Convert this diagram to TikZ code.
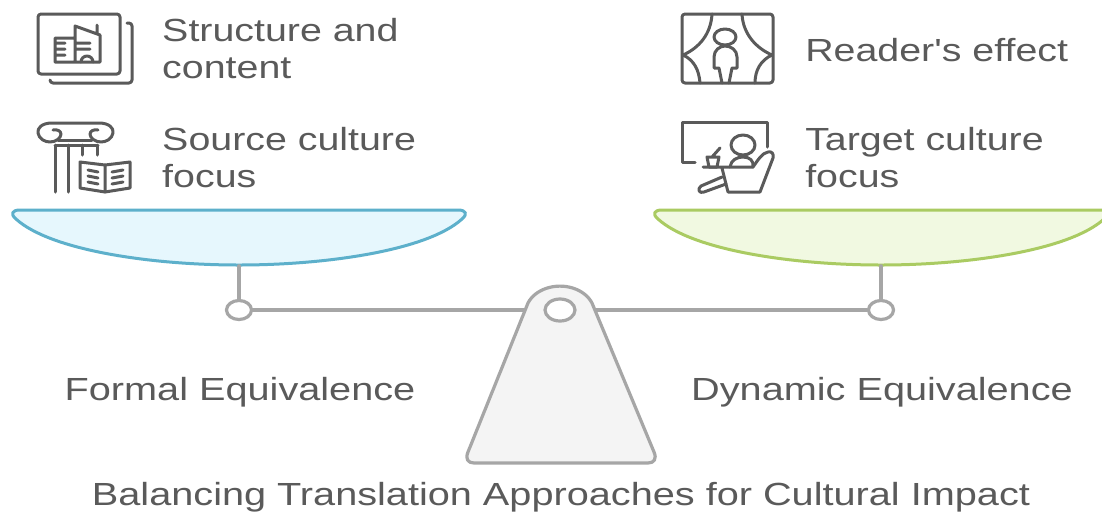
\documentclass[tikz,border=0pt]{standalone}
\usepackage{fontspec}
\setmainfont{Liberation Sans}
\usepackage{tikz}
\usetikzlibrary{arrows,positioning,shapes.geometric}
\definecolor{inkgray}{HTML}{5A5A5A}
\definecolor{beamgray}{HTML}{A6A6A6}
\definecolor{basefill}{HTML}{F4F4F4}
\definecolor{bluepan}{HTML}{E6F7FD}
\definecolor{blueline}{HTML}{5DB0CB}
\definecolor{greenpan}{HTML}{F1F9E1}
\definecolor{greenline}{HTML}{AACB62}
\begin{document}
\begin{tikzpicture}[x=1pt,y=-1pt,-,line join=round,line cap=round,
  pivot node/.style={ellipse,fill=white,draw=beamgray,line width=3.2pt,inner sep=0pt,minimum width=25pt,minimum height=19pt},
  hole node/.style={ellipse,fill=white,draw=beamgray,line width=3.2pt,inner sep=0pt,minimum width=30pt,minimum height=22pt},
  item node/.style={font=\fontsize{32}{37}\selectfont,text=inkgray,align=left,anchor=west,inner sep=0pt,transform shape,xscale=1.23},
  title node/.style={font=\fontsize{32}{37}\selectfont,text=inkgray,anchor=center,inner sep=0pt,transform shape,xscale=1.24},
  icon/.style={draw=inkgray,line width=3pt},
  beam/.style={draw=beamgray,line width=3.6pt}]
  \useasboundingbox (0,0) rectangle (1102,515);
  \fill[white] (0,0) rectangle (1102,515);

  % pans
  \draw[fill=bluepan,draw=blueline,line width=3pt]
    (20,210) -- (458,210) .. controls (466,210) and (468,214) .. (462,219)
    .. controls (428,250) and (328,265) .. (239,265)
    .. controls (150,265) and (50,250) .. (16,219)
    .. controls (10,214) and (12,210) .. (20,210) -- cycle;
  \draw[fill=greenpan,draw=greenline,line width=3pt]
    (662,210) -- (1100,210) .. controls (1108,210) and (1110,214) .. (1104,219)
    .. controls (1070,250) and (970,265) .. (881,265)
    .. controls (792,265) and (692,250) .. (658,219)
    .. controls (652,214) and (654,210) .. (662,210) -- cycle;
  \coordinate (lefthang) at (239,266);
  \coordinate (righthang) at (881,266);

  % scale
  \coordinate (hub) at (560,310);
  \node[pivot node] (leftpivot) at (239,310) {};
  \node[pivot node] (rightpivot) at (881,310) {};
  \path[beam] (lefthang) edge (leftpivot)
    (righthang) edge (rightpivot)
    (leftpivot) edge (rightpivot);
  \draw[fill=basefill,draw=beamgray,line width=3.2pt]
    (528,303) arc[start angle=202,end angle=338,x radius=34.5,y radius=27]
    -- (654,452) .. controls (657,459) and (654,463) .. (648,463)
    -- (474,463) .. controls (468,463) and (465,459) .. (468,452) -- cycle;
  \node[hole node] (hole) at (hub) {};

  % labels
  \node[item node] (structure) at (162,49) {Structure and\\content};
  \node[item node] (source) at (162,158) {Source culture\\focus};
  \node[item node] (reader) at (805,50) {Reader\textquotesingle s effect};
  \node[item node] (target) at (805,158) {Target culture\\focus};
  \node[title node] (formal) at (240,392) {Formal Equivalence};
  \node[title node] (dynamic) at (882,392) {Dynamic Equivalence};
  \node[title node] (title) at (561,497) {Balancing Translation Approaches for Cultural Impact};

  % structure icon
  \draw[icon,rounded corners=3pt] (38,14) rectangle (120,74);
  \draw[icon,rounded corners=3pt] (127,23) -- (132,23) -- (132,83) -- (50,83) -- (50,80);
  \draw[icon] (75,62) -- (55,62) -- (55,38) -- (75,38) -- (75,62) -- (100,62) -- (100,35) -- (75,26)
    -- (75,38) (97,25) -- (97,33)
    (57,43) -- (65,43) (57,49) -- (65,49) (57,55) -- (65,55)
    (75,43) -- (90,43) (75,49) -- (90,49);
  \draw[icon] (81,62) arc[start angle=180,end angle=360,radius=6];

  % column and book icon
  \draw[icon] (53,130) .. controls (57,129) and (61,131) .. (61,134)
    .. controls (61,138) and (56,142) .. (50,142) .. controls (45,142) and (39,139) .. (38,133)
    .. controls (37,128) and (42,123) .. (52,123) -- (99,123)
    .. controls (109,123) and (114,128) .. (113,133) .. controls (112,139) and (106,142) .. (101,142)
    .. controls (95,142) and (90,138) .. (90,134) .. controls (90,131) and (94,129) .. (98,130);
  \draw[icon] (58,140) -- (92,140) (55,145) -- (98,145)
    (55,145) -- (55,192) (68,145) -- (68,192)
    (82,145) -- (82,155) (97,145) -- (97,155);
  \draw[icon,fill=white] (80,162) -- (105,165) -- (130,162) -- (130,188) -- (105,192) -- (80,188) -- cycle;
  \draw[icon] (105,165) -- (105,192)
    (88,170) -- (98,172) (88,176) -- (98,178) (88,182) -- (98,184)
    (112,172) -- (123,170) (112,178) -- (123,176) (112,184) -- (123,182);

  % theatre icon
  \draw[icon,rounded corners=3pt] (682,14) rectangle (773,83);
  \draw[icon] (712,14) .. controls (711,34) and (699,48) .. (683,55)
    .. controls (694,60) and (699,70) .. (700,83)
    (742,14) .. controls (743,34) and (756,48) .. (772,55)
    .. controls (761,60) and (755,70) .. (755,83);
  \draw[icon] (725,37) ellipse[x radius=11,y radius=8];
  \draw[icon] (722,83) -- (719,68) -- (714,68) -- (714,57)
    .. controls (714,50) and (720,46) .. (725,46) .. controls (731,46) and (737,50) .. (737,57)
    -- (737,68) -- (732,68) -- (729,83);

  % armchair icon
  \draw[icon] (695,162) -- (682,162) -- (682,122) -- (767,122) -- (767,147);
  \draw[icon] (743,145) ellipse[x radius=12,y radius=10];
  \draw[icon] (730,167) .. controls (731,160) and (737,157) .. (743,157) .. controls (750,157) and (754,161) .. (753,167);
  \draw[icon] (703,167) -- (753,167) .. controls (758,160) and (762,153) .. (768,152)
    .. controls (772,151) and (774,154) .. (773,158) -- (760,192) -- (728,192) -- (722,168);
  \draw[icon] (722,177) -- (701,186) .. controls (697,189) and (699,194) .. (704,192) -- (726,184);
  \draw[icon] (707,157) -- (719,157) -- (717,167) -- (709,167) -- cycle (712,157) -- (720,148);
\end{tikzpicture}
\end{document}
